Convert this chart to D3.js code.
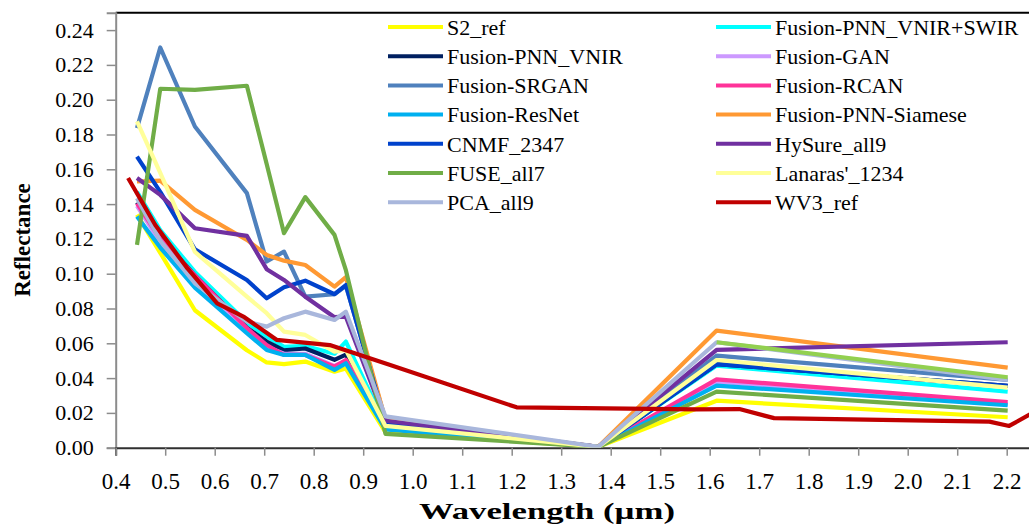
<!DOCTYPE html>
<html>
<head>
<meta charset="utf-8">
<script src="https://cdn.jsdelivr.net/npm/d3@7"></script>
<style>
  html, body { margin: 0; padding: 0; background: #fff; overflow: hidden; }
  svg { display: block; }
  text { font-family: "Liberation Serif", "Times New Roman", serif; fill: #000; }
</style>
</head>
<body>
<svg id="chart" width="1029" height="526"></svg>
<script>
// Band centres (µm)
const s2Bands = [0.443, 0.49, 0.56, 0.665, 0.705, 0.74, 0.783, 0.842, 0.865, 0.945, 1.375, 1.614, 2.202];
const wv3Bands = [0.425, 0.48, 0.545, 0.605, 0.66, 0.725, 0.8325, 0.95, 1.21, 1.57, 1.66, 1.73, 2.165, 2.205, 2.26, 2.33];

// Reflectance per product, sampled at the Sentinel-2 bands
const s2Ref       = [0.134, 0.112, 0.079, 0.056, 0.049, 0.048, 0.0495, 0.0437, 0.0455, 0.009, 0.0005, 0.027, 0.0175];
const pnnVnirSwir = [0.147, 0.125, 0.101, 0.072, 0.064, 0.058, 0.0585, 0.054, 0.061, 0.013, 0.0005, 0.0472, 0.0322];
const pnnVnir     = [0.141, 0.121, 0.099, 0.069, 0.061, 0.056, 0.057, 0.0505, 0.0535, 0.012, 0.0005, 0.048, 0.0355];
const gan         = [0.139, 0.118, 0.096, 0.067, 0.058, 0.054, 0.054, 0.047, 0.050, 0.012, 0.0005, 0.038, 0.025];
const srgan       = [0.1837, 0.230, 0.1846, 0.1463, 0.107, 0.1127, 0.0868, 0.0882, 0.093, 0.016, 0.0005, 0.0529, 0.039];
const rcan        = [0.1405, 0.120, 0.099, 0.0687, 0.059, 0.0533, 0.0533, 0.0466, 0.0504, 0.011, 0.0005, 0.0393, 0.0262];
const resnet      = [0.1329, 0.115, 0.092, 0.0658, 0.0562, 0.0533, 0.0533, 0.0447, 0.0485, 0.0105, 0.0005, 0.0357, 0.0244];
const siamese     = [0.153, 0.1535, 0.1367, 0.1194, 0.1108, 0.1075, 0.105, 0.0926, 0.098, 0.016, 0.0005, 0.0673, 0.046];
const cnmf        = [0.1673, 0.147, 0.114, 0.0964, 0.0859, 0.0922, 0.096, 0.0882, 0.0935, 0.014, 0.0005, 0.048, 0.0355];
const hysure      = [0.155, 0.1453, 0.1261, 0.1217, 0.1026, 0.0964, 0.0868, 0.075, 0.0753, 0.0155, 0.0005, 0.0562, 0.0606];
const fuse        = [0.1166, 0.2063, 0.2056, 0.208, 0.163, 0.1233, 0.144, 0.1223, 0.102, 0.008, 0.0005, 0.0322, 0.0213];
const lanaras     = [0.1875, 0.158, 0.1125, 0.0868, 0.0773, 0.0667, 0.0648, 0.0552, 0.0562, 0.0125, 0.0005, 0.0504, 0.0345];
const pca         = [0.1434, 0.119, 0.0945, 0.0725, 0.0696, 0.0744, 0.0782, 0.0734, 0.0782, 0.018, 0.0005, 0.0606, 0.039];
const swirOnly    = [null, null, null, null, null, null, null, null, null, null, null, 0.0606, 0.0405];

// WorldView-3 reference, sampled at its own bands
const wv3Ref = [0.155, 0.128, 0.103, 0.083, 0.075, 0.062, 0.059, 0.048, 0.0232, 0.022, 0.0222, 0.017, 0.015, 0.0125, 0.0212, 0.024];

// Axis ticks
const xTicks = [0.4, 0.5, 0.6, 0.7, 0.8, 0.9, 1.0, 1.1, 1.2, 1.3, 1.4, 1.5, 1.6, 1.7, 1.8, 1.9, 2.0, 2.1, 2.2];
const yTicks = [0, 0.02, 0.04, 0.06, 0.08, 0.10, 0.12, 0.14, 0.16, 0.18, 0.20, 0.22, 0.24];

const series = [
  { name: "S2_ref",               color: "#FFFF00", x: s2Bands,  y: s2Ref },
  { name: "Fusion-PNN_VNIR+SWIR", color: "#00FFFF", x: s2Bands,  y: pnnVnirSwir },
  { name: "Fusion-PNN_VNIR",      color: "#002060", x: s2Bands,  y: pnnVnir },
  { name: "Fusion-GAN",           color: "#CC99FF", x: s2Bands,  y: gan },
  { name: "Fusion-SRGAN",         color: "#4F81BD", x: s2Bands,  y: srgan },
  { name: "Fusion-RCAN",          color: "#FF3399", x: s2Bands,  y: rcan },
  { name: "Fusion-ResNet",        color: "#00B0F0", x: s2Bands,  y: resnet },
  { name: "Fusion-PNN-Siamese",   color: "#FF9933", x: s2Bands,  y: siamese },
  { name: "CNMF_2347",            color: "#0042CC", x: s2Bands,  y: cnmf },
  { name: "HySure_all9",          color: "#7030A0", x: s2Bands,  y: hysure },
  { name: "FUSE_all7",            color: "#70AD47", x: s2Bands,  y: fuse },
  { name: "Lanaras'_1234",        color: "#FFFF99", x: s2Bands,  y: lanaras },
  { name: "PCA_all9",             color: "#A9B7DC", x: s2Bands,  y: pca },
  { name: null,                   color: "#92D050", x: s2Bands,  y: swirOnly },
  { name: "WV3_ref",              color: "#C00000", x: wv3Bands, y: wv3Ref }
];

const svg = d3.select("#chart");
const W = 1029, H = 526;
const plotLeft = 115.7, plotTop = 12.7, plotBottom = 447.7;
const step = 49.5; // pixels per 0.1 µm
const serif = "'Liberation Serif', 'Times New Roman', serif";

const x = d3.scaleLinear().domain([0.4, 2.4]).range([plotLeft, plotLeft + 20 * step]);
const y = d3.scaleLinear().domain([0, 0.25]).range([plotBottom, plotTop]);

// clip lines to the plotting area
svg.append("defs").append("clipPath").attr("id", "plot")
  .append("rect").attr("x", plotLeft).attr("y", plotTop).attr("width", W - plotLeft).attr("height", plotBottom - plotTop);

// frame top edge
svg.append("line").attr("x1", plotLeft).attr("x2", W).attr("y1", plotTop).attr("y2", plotTop)
  .attr("stroke", "#000").attr("stroke-width", 2);

// y axis
const yAxis = svg.append("g").attr("transform", `translate(${plotLeft},0)`)
  .call(d3.axisLeft(y).tickValues(yTicks).tickFormat(d3.format(".2f")).tickSize(9).tickPadding(13))
  .attr("font-family", serif).attr("font-size", 22);
yAxis.select(".domain").attr("stroke", "#8c8c8c").attr("stroke-width", 2);
yAxis.selectAll(".tick line").attr("stroke", "#8c8c8c").attr("stroke-width", 1.5);
yAxis.selectAll(".tick text").style("font-size", "22px").style("font-family", serif).attr("fill", "#000");

// x axis
const xAxis = svg.append("g").attr("transform", `translate(0,${plotBottom})`)
  .call(d3.axisBottom(x).tickValues(xTicks).tickFormat(d3.format(".1f")).tickSize(8).tickPadding(17))
  .attr("font-family", serif).attr("font-size", 23);
xAxis.select(".domain").attr("stroke", "#303030").attr("stroke-width", 2);
xAxis.selectAll(".tick line").attr("stroke", "#8c8c8c").attr("stroke-width", 1.5);
xAxis.selectAll(".tick text").style("font-size", "23px").style("font-family", serif).attr("fill", "#000");

// series lines
const plot = svg.append("g").attr("clip-path", "url(#plot)");
series.forEach(s => {
  const pts = s.x.map((v, i) => [v, s.y[i]]);
  const line = d3.line().defined(d => d[1] != null).x(d => x(d[0])).y(d => y(d[1]));
  plot.append("path").datum(pts)
    .attr("d", line)
    .attr("fill", "none")
    .attr("stroke", s.color)
    .attr("stroke-width", 4.2)
    .attr("stroke-linejoin", "round");
});

// legend: two columns, filled row by row
const named = series.filter(s => s.name);
const legend = svg.append("g");
named.forEach((s, i) => {
  const col = i % 2, row = Math.floor(i / 2);
  const lx = col === 0 ? 388 : 716;
  const ly = 27 + row * 29.2;
  legend.append("line").attr("x1", lx).attr("x2", lx + 55).attr("y1", ly).attr("y2", ly)
    .attr("stroke", s.color).attr("stroke-width", 4);
  legend.append("text").attr("x", lx + 59).attr("y", ly).attr("dy", "0.35em")
    .style("font-size", "22px").text(s.name);
});

// axis titles
svg.append("text").attr("transform", "translate(30,240) rotate(-90)")
  .attr("text-anchor", "middle").style("font-size", "23px").attr("font-weight", "bold").text("Reflectance");
svg.append("text").attr("x", 547).attr("y", 519)
  .attr("text-anchor", "middle").style("font-size", "24px").attr("font-weight", "bold")
  .attr("textLength", 256).attr("lengthAdjust", "spacingAndGlyphs").text("Wavelength (µm)");
</script>
</body>
</html>
